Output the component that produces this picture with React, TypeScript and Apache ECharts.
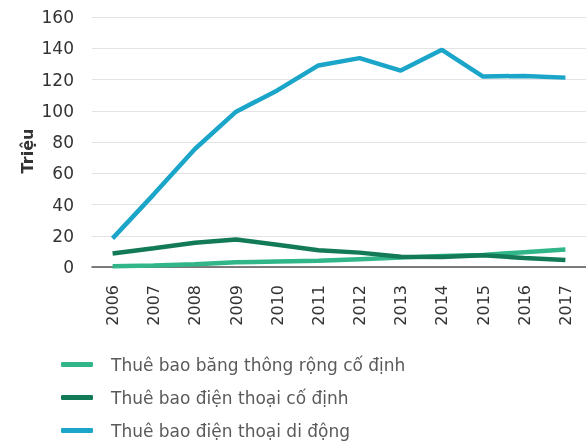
import React, { useEffect, useRef } from "react";
import * as echarts from "echarts";

const years = ["2006", "2007", "2008", "2009", "2010", "2011", "2012", "2013", "2014", "2015", "2016", "2017"];
const broadband = [0.5, 0.9, 1.8, 3, 3.5, 4, 5, 6, 7, 7.7, 9.5, 11.2];
const fixedPhone = [8.6, 12, 15.5, 17.6, 14.3, 10.7, 9.2, 6.5, 6.4, 7.5, 5.8, 4.5];
const mobile = [18.3, 46.5, 75.5, 99.4, 113, 129, 133.7, 125.7, 139, 121.9, 122.3, 121.2];
const seriesNames = ["Thuê bao băng thông rộng cố định", "Thuê bao điện thoại cố định", "Thuê bao điện thoại di động"];
const colors = ["#30b688", "#137a58", "#1ba5c9"];
const yTicks = { min: 0, max: 160, interval: 20 };

export default function App() {
  const ref = useRef<HTMLDivElement>(null);
  useEffect(() => {
    const chart = echarts.init(ref.current!, null, { renderer: "svg" });
    const font = "'DejaVu Sans', sans-serif";
    const data = [broadband, fixedPhone, mobile];
    chart.setOption({
      animation: false,
      textStyle: { fontFamily: font },
      grid: { left: 92, right: -5, top: 17, bottom: 175 },
      graphic: [
        {
          type: "text",
          x: 27,
          y: 151,
          rotation: Math.PI / 2,
          style: { text: "Triệu", fontSize: 16, fontWeight: "bold", fill: "#333", fontFamily: font, align: "center", verticalAlign: "middle" },
        },
      ],
      legend: {
        orient: "vertical",
        left: 56,
        top: 351,
        height: 140,
        itemWidth: 32,
        itemHeight: 5,
        itemGap: 16,
        icon: "roundRect",
        data: seriesNames,
        textStyle: { fontFamily: font, fontSize: 17, color: "#5a5a5a", padding: [0, 0, 0, 13] },
      },
      xAxis: {
        type: "category",
        data: years,
        boundaryGap: true,
        axisLine: { show: true, lineStyle: { color: "#555", width: 1.5 } },
        axisTick: { show: false },
        axisLabel: { rotate: 90, margin: 18, fontSize: 16, color: "#333", fontFamily: font },
      },
      yAxis: {
        type: "value",
        min: yTicks.min,
        max: yTicks.max,
        interval: yTicks.interval,
        axisLine: { show: false },
        axisTick: { show: false },
        axisLabel: { margin: 18, fontSize: 17, color: "#333", fontFamily: font },
        splitLine: { lineStyle: { color: "#e3e3e3", width: 1.2 } },
      },
      series: seriesNames.map((name, i) => ({
        name,
        type: "line",
        data: data[i],
        showSymbol: false,
        symbol: "none",
        lineStyle: { color: colors[i], width: 4.5 },
        itemStyle: { color: colors[i] },
        z: 3 + i,
      })),
    });
    return () => chart.dispose();
  }, []);
  return <div ref={ref} style={{ position: "fixed", left: 0, top: 0, width: 586, height: 442 }} />;
}
